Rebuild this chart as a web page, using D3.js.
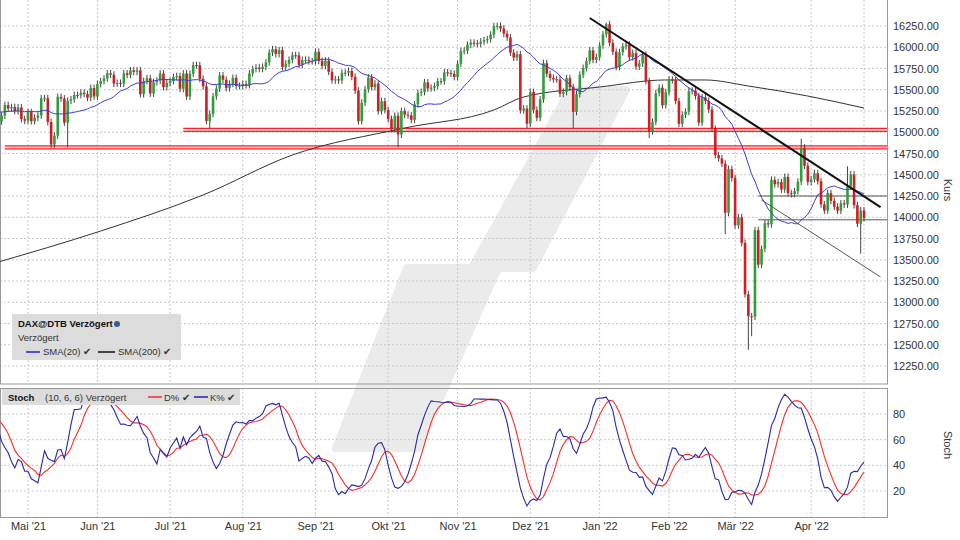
<!DOCTYPE html>
<html><head><meta charset="utf-8">
<script src="https://cdn.jsdelivr.net/npm/d3@7"></script>
<style>
body { margin: 0; background: #fff; font-family: Arial, "Liberation Sans", sans-serif; }
svg text { font-family: Arial, "Liberation Sans", sans-serif; }
</style></head>
<body><svg id="chart" width="960" height="540"></svg>
<script>
// closes before the visible window (only used for indicators)
const preWindow = [15107,15212,15176,15203,15234,15215,15234,15292,15255,15460]
// daily closes per month (open = previous close)
const apr21 = [15368,15129,15196,15320,15280,15296,15249,15292,15154,15136]
const mai21 = [15237,15130,15171,15197,15400,15400,15120,14856,14960,15416,15397,15113,15370,15388,15438,15437,15465,15450,15406,15520,15421]
const jun21 = [15567,15602,15632,15693,15677,15572,15581,15571,15693,15674,15729,15710,15727,15448,15603,15636,15456,15589,15607,15691,15531,15580]
const jul21 = [15603,15650,15661,15511,15692,15420,15688,15790,15789,15629,15540,15133,15216,15422,15514,15669,15618,15519,15570,15640,15544,15545]
const aug21 = [15568,15555,15692,15744,15761,15745,15770,15822,15937,15977,15921,15965,15766,15808,15852,15906,15905,15793,15851,15852,15835,15835]
const sep21 = [15946,15840,15781,15843,15711,15610,15623,15609,15700,15701,15722,15652,15490,15130,15348,15506,15644,15531,15573,15248,15365,15260]
const okt21 = [15156,15036,15194,14973,15250,15206,15199,15146,15328,15462,15474,15587,15516,15523,15543,15600,15599,15705,15696,15688,15650]
const nov21 = [15806,15954,15960,16030,16054,16047,16040,16067,16084,16094,16148,16248,16251,16221,16159,16115,15937,15878,15917,15257,15280,15100]
const dez21 = [15473,15263,15170,15387,15813,15687,15639,15623,15621,15453,15476,15636,15531,15239,15447,15676,15756,15838,15963,15852,15885]
const jan22 = [16020,16152,16271,16052,15947,15768,15942,16010,16031,15883,15933,15772,15809,15912,15603,15011,15123,15460,15524,15318,15471]
const feb22 = [15619,15613,15368,15099,15206,15242,15482,15490,15425,15113,15412,15370,15267,15042,14731,14693,14631,14052,14567,14461]
const mar22 = [13905,14000,13698,13094,12835,12831,13848,13442,13628,13929,13917,14440,14388,14413,14326,14474,14283,14273,14306,14418,14820,14606,14415]
const apr22 = [14446,14518,14424,14152,14079,14284,14193,14124,14077,14164,14150,14362,14503,14142,13924,14080,13990]

// notable wicks: [day index, high, low]
const wicks = [[18,null,14816],[22,null,14820],[65,null,15050],[122,null,14820],[161,null,15050],
  [175,null,15050],[198,null,14930],[221,null,13800],[228,null,12440],[229,null,12600],[262,null,13570],
  [185,16290,null],[244,14925,null],[258,14600,null]]

const monthLabels = ["Mai '21","Jun '21","Jul '21","Aug '21","Sep '21","Okt '21","Nov '21","Dez '21","Jan '22","Feb '22","Mär '22","Apr '22"]
const monthStart = [10,31,53,75,97,119,140,162,183,204,224,247]

// SMA(200): [day index, value]
const sma200 = [[0,13462],[32,13838],[63,14262],[90,14732],[124,15050],[151,15262],[160,15415],[183,15532],[203,15615],[215,15615],[228,15544],[246,15426],[263,15285]]

const priceTicks = [12250,12500,12750,13000,13250,13500,13750,14000,14250,14500,14750,15000,15250,15500,15750,16000,16250]
const stochTicks = [20,40,60,80]
const redZones = [[15010,15045],[14805,14840]]
const redZoneStart = [57, 3]
const trendLine = [[180,16344],[268,14120]]
const channelLine = [[232,14203],[268,13297]]
const flatLines = [[231,14250],[231,13970]]

const visible = [].concat(apr21,mai21,jun21,jul21,aug21,sep21,okt21,nov21,dez21,jan22,feb22,mar22,apr22)
const allCloses = preWindow.concat(visible)
const off = preWindow.length
const wickDefault = 40
const all = allCloses.map((c, j) => {
  const o = j ? allCloses[j-1] : c
  return { i: j - off, o, c, h: Math.max(o, c) + wickDefault, l: Math.min(o, c) - wickDefault }
})
wicks.forEach(([i, h, l]) => { if (h) all[i+off].h = h; if (l) all[i+off].l = l })

const sma = (arr, n) => arr.map((v, i) => d3.mean(arr.slice(Math.max(0, i-n+1), i+1)))
const sma20 = sma(allCloses, 20).slice(off)
const rawK = all.map((d, j) => {
  const win = all.slice(Math.max(0, j-9), j+1)
  const hh = d3.max(win, w => w.h), ll = d3.min(win, w => w.l)
  return (d.c - ll) / (hh - ll) * 100
})
const kLine = sma(rawK, 6)
const dLine = sma(kLine, 6).slice(off)
const kVis = kLine.slice(off)
const data = all.slice(off)

const svg = d3.select('#chart')
const x = d3.scaleLinear().domain([10, 263]).range([28, 864])
const y = d3.scaleLinear().domain([12250, 16250]).range([366, 26])
const ys = d3.scaleLinear().domain([20, 80]).range([491, 414])
const right = 887

// watermark
svg.append('path')
  .attr('d', 'M570,90 L626,90 L533,268 L498,268 L418,448 L336,448 L407,268 L472,268 Z')
  .attr('fill', '#ebebeb').attr('stroke', '#ebebeb').attr('stroke-width', 8).attr('stroke-linejoin', 'round')

// grids
const grid = svg.append('g').attr('stroke', '#c8c8c8').attr('stroke-dasharray', '2,2')
priceTicks.forEach(t => grid.append('line').attr('x1', 0).attr('x2', right).attr('y1', y(t)).attr('y2', y(t)))
stochTicks.forEach(t => grid.append('line').attr('x1', 0).attr('x2', right).attr('y1', ys(t)).attr('y2', ys(t)))
monthStart.concat([data.length-1]).forEach(m => {
  grid.append('line').attr('x1', x(m)).attr('x2', x(m)).attr('y1', 0).attr('y2', 384)
  grid.append('line').attr('x1', x(m)).attr('x2', x(m)).attr('y1', 388).attr('y2', 517)
})

// panel frames
svg.append('rect').attr('x', 0.5).attr('y', -2).attr('width', right).attr('height', 386).attr('fill', 'none').attr('stroke', '#999')
svg.append('rect').attr('x', 0.5).attr('y', 388.5).attr('width', right).attr('height', 129).attr('fill', 'none').attr('stroke', '#999')

// red support zones
redZones.forEach((z, k) => {
  svg.append('rect').attr('x', x(redZoneStart[k])).attr('y', y(z[1])).attr('width', right - x(redZoneStart[k])).attr('height', y(z[0]) - y(z[1]))
    .attr('fill', '#ffd6d6')
  z.forEach(v => svg.append('line').attr('x1', x(redZoneStart[k])).attr('x2', right).attr('y1', y(v)).attr('y2', y(v)).attr('stroke', '#ff2020').attr('stroke-width', 1.3))
})

// SMA 200
svg.append('path').datum(sma200)
  .attr('d', d3.line().x(d => x(d[0])).y(d => y(d[1])).curve(d3.curveMonotoneX))
  .attr('fill', 'none').attr('stroke', '#333').attr('stroke-width', 1)

// horizontal gray lines
flatLines.forEach(f => svg.append('line').attr('x1', x(f[0])).attr('x2', right).attr('y1', y(f[1])).attr('y2', y(f[1])).attr('stroke', '#555').attr('stroke-width', 1))

// candles
const cw = 2.6
const cg = svg.append('g')
data.forEach(d => {
  cg.append('line').attr('x1', x(d.i)).attr('x2', x(d.i)).attr('y1', y(d.h)).attr('y2', y(d.l)).attr('stroke', '#444').attr('stroke-width', 1)
  cg.append('rect').attr('x', x(d.i) - cw/2).attr('width', cw)
    .attr('y', y(Math.max(d.o, d.c))).attr('height', Math.max(1, Math.abs(y(d.o) - y(d.c))))
    .attr('fill', d.c >= d.o ? '#2f9e3c' : '#cc1f26')
})

// SMA 20
svg.append('path').datum(sma20)
  .attr('d', d3.line().x((d, i) => x(i)).y(d => y(d)))
  .attr('fill', 'none').attr('stroke', '#3c3cd8').attr('stroke-width', 1)

// trend lines
svg.append('path').datum(trendLine).attr('d', d3.line().x(d => x(d[0])).y(d => y(d[1])))
  .attr('stroke', '#111').attr('stroke-width', 2)
svg.append('path').datum(channelLine).attr('d', d3.line().x(d => x(d[0])).y(d => y(d[1])))
  .attr('stroke', '#555').attr('stroke-width', 1)

// stoch lines
svg.append('path').datum(dLine).attr('d', d3.line().x((d, i) => x(i)).y(d => ys(d)))
  .attr('fill', 'none').attr('stroke', '#ff2a2a').attr('stroke-width', 1.1)
svg.append('path').datum(kVis).attr('d', d3.line().x((d, i) => x(i)).y(d => ys(d)))
  .attr('fill', 'none').attr('stroke', '#2828a8').attr('stroke-width', 1.1)

// axes
const yAxis = d3.axisRight(y).tickValues(priceTicks).tickFormat(d3.format('.2f')).tickSize(0).tickPadding(6)
svg.append('g').attr('transform', `translate(${right},0)`).call(yAxis)
const sAxis = d3.axisRight(ys).tickValues(stochTicks).tickSize(0).tickPadding(6)
svg.append('g').attr('transform', `translate(${right},0)`).call(sAxis)
const xAxis = d3.axisBottom(x).tickValues(monthStart).tickFormat((d, i) => monthLabels[i]).tickSize(0).tickPadding(5)
svg.append('g').attr('transform', 'translate(0,517)').call(xAxis)
svg.selectAll('.domain').attr('stroke', '#999')
svg.selectAll('.tick text').attr('font-size', 11).attr('fill', '#333')
svg.append('text').attr('transform', 'translate(944,190) rotate(90)').attr('text-anchor', 'middle').attr('font-size', 11).attr('fill', '#333').text('Kurs')
svg.append('text').attr('transform', 'translate(944,445) rotate(90)').attr('text-anchor', 'middle').attr('font-size', 11).attr('fill', '#333').text('Stoch')

// legends
const lg = svg.append('g')
lg.append('rect').attr('x', 12).attr('y', 314).attr('width', 169).attr('height', 46).attr('fill', '#dcdcdc')
lg.append('text').attr('x', 18).attr('y', 327).attr('font-size', 9.5).attr('font-weight', 'bold').attr('fill', '#111').text('DAX@DTB Verzögert')
lg.append('circle').attr('cx', 117).attr('cy', 324).attr('r', 3).attr('fill', '#3a5a8a')
lg.append('text').attr('x', 18).attr('y', 341).attr('font-size', 9.5).attr('fill', '#333').text('Verzögert')
lg.append('line').attr('x1', 26).attr('x2', 40).attr('y1', 352).attr('y2', 352).attr('stroke', '#2222cc').attr('stroke-width', 1.5)
lg.append('text').attr('x', 43).attr('y', 355).attr('font-size', 9.5).attr('fill', '#333').text('SMA(20)  ✔')
lg.append('line').attr('x1', 98).attr('x2', 115).attr('y1', 352).attr('y2', 352).attr('stroke', '#111').attr('stroke-width', 1.5)
lg.append('text').attr('x', 118).attr('y', 355).attr('font-size', 9.5).attr('fill', '#333').text('SMA(200)  ✔')

const sg = svg.append('g')
sg.append('rect').attr('x', 2).attr('y', 389).attr('width', 238).attr('height', 16).attr('fill', '#dcdcdc')
sg.append('text').attr('x', 8).attr('y', 401).attr('font-size', 9.5).attr('font-weight', 'bold').attr('fill', '#111').text('Stoch')
sg.append('text').attr('x', 45).attr('y', 401).attr('font-size', 9.5).attr('fill', '#333').text('(10, 6, 6) Verzögert')
sg.append('line').attr('x1', 148).attr('x2', 162).attr('y1', 397).attr('y2', 397).attr('stroke', '#ff2a2a').attr('stroke-width', 1.5)
sg.append('text').attr('x', 164).attr('y', 401).attr('font-size', 9.5).attr('fill', '#333').text('D%  ✔')
sg.append('line').attr('x1', 194).attr('x2', 208).attr('y1', 397).attr('y2', 397).attr('stroke', '#2222aa').attr('stroke-width', 1.5)
sg.append('text').attr('x', 210).attr('y', 401).attr('font-size', 9.5).attr('fill', '#333').text('K%  ✔')
</script></body></html>
